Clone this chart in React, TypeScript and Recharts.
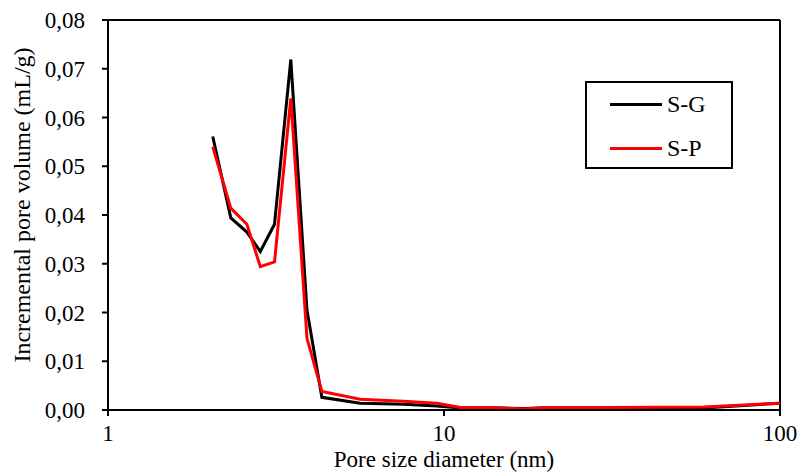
import { LineChart, Line, XAxis, YAxis, ReferenceLine } from 'recharts'

// pore diameter (nm) and incremental pore volume (mL/g)
const poreSize = [2.05, 2.32, 2.59, 2.84, 3.13, 3.5, 3.91, 4.33, 5.63, 7.57, 9.53, 11.2, 14.0, 17.3, 19.7, 30.0, 59.3, 100]
const sgValues = [0.0561, 0.0394, 0.0365, 0.0325, 0.0381, 0.0719, 0.0205, 0.0026, 0.0014, 0.0012, 0.0008, 0.0004, 0.0004, 0.0003, 0.0004, 0.0004, 0.0004, 0.0014]
const spValues = [0.054, 0.0414, 0.0381, 0.0294, 0.0304, 0.0639, 0.0147, 0.0038, 0.0022, 0.0018, 0.0014, 0.0005, 0.0005, 0.0002, 0.0005, 0.0005, 0.0006, 0.0014]

const xTicks = [1, 10, 100]
const yTicks = [0, 0.01, 0.02, 0.03, 0.04, 0.05, 0.06, 0.07, 0.08]

const seriesNames = { sg: 'S-G', sp: 'S-P' }

const data = poreSize.map((x, i) => ({ x, sg: sgValues[i], sp: spValues[i] }))

const font = '"Liberation Serif", "DejaVu Serif", serif'

function fmtY(v: number): string {
  return v.toFixed(2).replace('.', ',')
}

function LegendBox() {
  const rows = [
    { name: seriesNames.sg, color: '#000000' },
    { name: seriesNames.sp, color: '#ff0000' },
  ]
  return (
    <div style={{
      position: 'absolute', left: 585, top: 81, width: 144, height: 84,
      border: '2px solid #000', background: '#fff',
      fontFamily: font, fontSize: 24, color: '#000',
    }}>
      {rows.map((r, i) => (
        <div key={r.name} style={{ position: 'absolute', left: 23, top: 7 + i * 44, display: 'flex', alignItems: 'center', height: 28 }}>
          <span style={{ display: 'inline-block', width: 52, height: 3, background: r.color, marginRight: 5 }} />
          <span>{r.name}</span>
        </div>
      ))}
    </div>
  )
}

// rotated y axis title, a bit above the axis centre like the original
function YTitle(props: any) {
  const vb = props.viewBox || { x: 0, y: 0, width: 0, height: 0 }
  const x = vb.x + 22
  const y = vb.y + vb.height / 2 - 10
  return (
    <text x={x} y={y} transform={`rotate(-90, ${x}, ${y})`} textAnchor="middle" dominantBaseline="central"
      fill="#000" fontSize={24} fontFamily={font}>
      Incremental pore volume (mL/g)
    </text>
  )
}

export default function App() {
  return (
    <div style={{ position: 'absolute', left: 0, top: 0, width: 801, height: 472, background: '#fff' }}>
      <LineChart width={801} height={472} data={data} margin={{ top: 20, right: 21, left: 0, bottom: 0 }}>
        <XAxis
          dataKey="x"
          type="number"
          scale="log"
          domain={[1, 100]}
          ticks={xTicks}
          allowDataOverflow
          height={62}
          stroke="#000"
          strokeWidth={2}
          tickSize={6}
          tickMargin={9}
          tick={{ fill: '#000', fontSize: 23, fontFamily: font }}
          label={{ value: 'Pore size diameter (nm)', position: 'insideBottom', offset: 5, fill: '#000', fontSize: 23, fontFamily: font }}
        />
        <YAxis
          type="number"
          domain={[0, 0.08]}
          ticks={yTicks}
          tickFormatter={fmtY}
          width={108}
          stroke="#000"
          strokeWidth={2}
          tickSize={6}
          tickMargin={17}
          tick={{ fill: '#000', fontSize: 23, fontFamily: font }}
          label={<YTitle />}
        />
        <ReferenceLine y={0.08} stroke="#000" strokeWidth={2} />
        <ReferenceLine x={100} stroke="#000" strokeWidth={2} />
        <Line dataKey="sg" name={seriesNames.sg} stroke="#000000" strokeWidth={3} dot={false} isAnimationActive={false} />
        <Line dataKey="sp" name={seriesNames.sp} stroke="#ff0000" strokeWidth={3} dot={false} isAnimationActive={false} />
      </LineChart>
      <LegendBox />
    </div>
  )
}
